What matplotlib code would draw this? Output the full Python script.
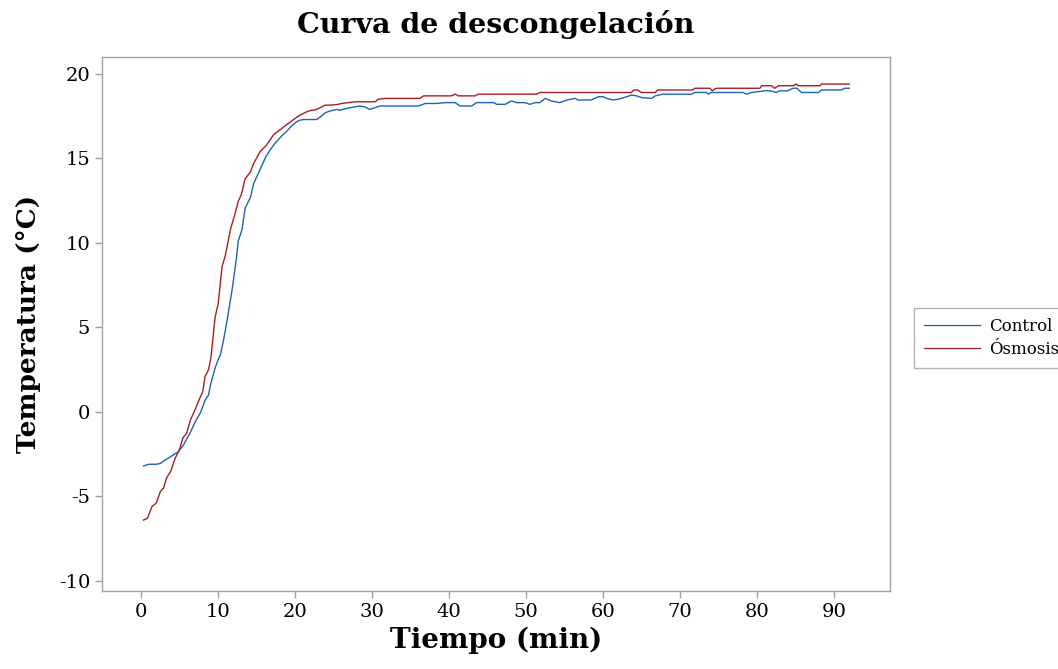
import numpy as np
import matplotlib
matplotlib.use('Agg')
from matplotlib import pyplot as plt

# Control series (time in min, temperature in C)
control_t = [0.3, 1.0, 2.0, 2.5, 3.1, 4.0, 4.85, 5.5, 6.4, 7.0,
             7.7, 8.3, 8.75, 9.0, 9.6, 10.0, 10.3, 10.7, 11.1, 11.8,
             12.4, 12.6, 13.1, 13.5, 14.2, 14.6, 15.2, 15.7, 16.2, 16.75,
             17.3, 17.8, 18.3, 18.9, 19.5, 20.0, 20.5, 21.1, 22.8, 23.4,
             23.9, 24.5, 25.4, 25.8, 27.1, 28.4, 29.0, 29.7, 30.4, 31.0,
             36.0, 36.9, 38.4, 39.5, 40.8, 41.4, 42.9, 43.6, 45.8, 46.2,
             47.3, 48.1, 48.8, 49.9, 50.5, 51.2, 51.8, 52.5, 53.3, 54.4,
             55.3, 56.4, 56.8, 58.5, 59.4, 60.0, 60.5, 61.3, 62.0, 63.1,
             63.7, 64.4, 65.0, 66.3, 66.8, 67.8, 68.9, 71.5, 71.9, 73.5,
             73.7, 74.0, 78.2, 78.7, 79.3, 81.0, 81.8, 82.5, 83.0, 84.0,
             84.7, 85.2, 85.8, 88.0, 88.4, 91.0, 91.4, 92.0]
control_temp = [-3.2, -3.1, -3.1, -3.05, -2.85, -2.6, -2.35, -1.95, -1.2, -0.6,
                -0.05, 0.7, 1.0, 1.6, 2.6, 3.1, 3.4, 4.26, 5.25, 7.2,
                9.2, 10.1, 10.8, 12.05, 12.7, 13.5, 14.1, 14.6, 15.1, 15.5,
                15.85, 16.1, 16.35, 16.6, 16.9, 17.1, 17.25, 17.3, 17.3, 17.5,
                17.7, 17.8, 17.9, 17.85, 18.0, 18.1, 18.05, 17.9, 18.0, 18.1,
                18.1, 18.25, 18.25, 18.3, 18.3, 18.1, 18.1, 18.3, 18.3, 18.2,
                18.2, 18.4, 18.3, 18.3, 18.2, 18.3, 18.3, 18.55, 18.4, 18.3,
                18.45, 18.55, 18.45, 18.46, 18.65, 18.65, 18.55, 18.46, 18.5, 18.65,
                18.75, 18.7, 18.6, 18.55, 18.7, 18.8, 18.8, 18.8, 18.9, 18.9,
                18.8, 18.9, 18.9, 18.8, 18.9, 19.0, 19.0, 18.9, 19.0, 19.0,
                19.15, 19.15, 18.9, 18.9, 19.05, 19.05, 19.15, 19.15]

# Osmosis series
osmosis_t = [0.3, 0.8, 1.4, 1.95, 2.5, 2.9, 3.3, 3.85, 4.4, 5.0,
             5.4, 5.9, 6.4, 7.0, 7.6, 8.0, 8.3, 8.75, 9.05, 9.6,
             10.0, 10.5, 10.9, 11.6, 12.2, 12.6, 13.0, 13.5, 14.2, 14.6,
             15.45, 16.3, 17.2, 18.05, 18.9, 19.8, 20.6, 21.7, 22.8, 23.9,
             24.5, 25.6, 26.0, 27.8, 30.4, 30.8, 31.7, 36.2, 36.7, 40.3,
             40.8, 41.2, 43.4, 43.8, 51.4, 51.8, 63.7, 64.0, 64.5, 65.0,
             66.8, 67.1, 71.7, 71.9, 73.9, 74.2, 74.7, 80.4, 80.6, 81.9,
             82.3, 82.8, 84.7, 85.1, 85.4, 88.2, 88.4, 92.0]
osmosis_temp = [-6.4, -6.3, -5.6, -5.4, -4.7, -4.5, -3.9, -3.5, -2.75, -2.2,
                -1.55, -1.26, -0.47, 0.12, 0.8, 1.2, 2.1, 2.5, 3.2, 5.6,
                6.4, 8.6, 9.2, 10.8, 11.75, 12.45, 12.85, 13.8, 14.2, 14.7,
                15.4, 15.8, 16.4, 16.7, 17.0, 17.3, 17.55, 17.8, 17.9, 18.15,
                18.15, 18.2, 18.25, 18.35, 18.35, 18.5, 18.55, 18.55, 18.7, 18.7,
                18.8, 18.7, 18.7, 18.8, 18.8, 18.9, 18.9, 19.05, 19.05, 18.9,
                18.9, 19.05, 19.05, 19.15, 19.15, 19.0, 19.15, 19.15, 19.3, 19.3,
                19.15, 19.3, 19.3, 19.4, 19.3, 19.3, 19.4, 19.4]

x_ticks = [0, 10, 20, 30, 40, 50, 60, 70, 80, 90]
y_ticks = [-10, -5, 0, 5, 10, 15, 20]

plt.rcParams['font.family'] = ['DejaVu Serif']

fig = plt.figure(figsize=(10.58, 6.69), dpi=100)
ax = fig.add_axes([0.0964, 0.1166, 0.7448, 0.7982])

ax.plot(control_t, control_temp, color='#1f62b5', lw=1.0, label='Control')
ax.plot(osmosis_t, osmosis_temp, color='#a81e22', lw=1.0, label='Ósmosis')

ax.set_xlim(-5.1, 97.3)
ax.set_ylim(-10.6, 21.0)
ax.set_xticks(x_ticks)
ax.set_yticks(y_ticks)
ax.set_yticklabels([str(v) for v in y_ticks])

for s in ax.spines.values():
    s.set_color('#a0a0a0')
    s.set_linewidth(1.0)
ax.tick_params(colors='#a0a0a0', labelcolor='black', labelsize=14, length=5, width=1)

ax.set_title('Curva de descongelación', fontsize=20.5, fontweight='bold', pad=17)
ax.set_xlabel('Tiempo (min)', fontsize=20, fontweight='bold', labelpad=4)
ax.set_ylabel('Temperatura (°C)', fontsize=19, fontweight='bold', labelpad=13)

leg = ax.legend(loc='center left', bbox_to_anchor=(1.03, 0.474), fontsize=12,
                frameon=True, fancybox=False, borderpad=0.6, handlelength=3.4,
                handletextpad=0.5, labelspacing=0.35, borderaxespad=0)
leg.get_frame().set_edgecolor('#a0a0a0')
leg.get_frame().set_linewidth(1.0)
for h in leg.get_lines():
    h.set_linewidth(0.9)

fig.savefig('out.png', dpi=100)
